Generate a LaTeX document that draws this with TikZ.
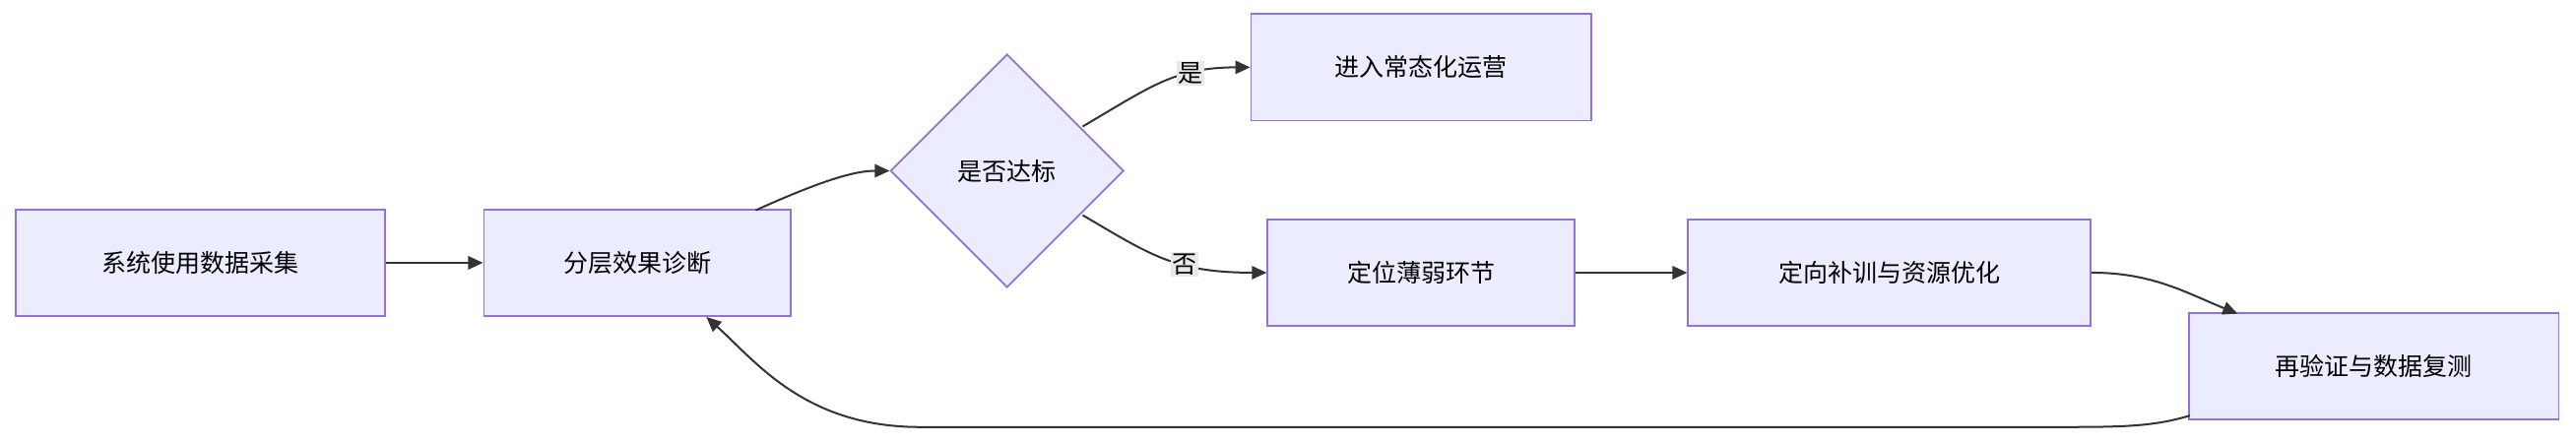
\documentclass[tikz,border=0pt]{standalone}
\usepackage{fontspec}
\setmainfont{Noto Sans CJK SC}
\usetikzlibrary{shapes.geometric,arrows.meta}
\definecolor{nfill}{HTML}{ECECFF}
\definecolor{nline}{HTML}{9370DB}
\definecolor{eline}{HTML}{333333}
\definecolor{lbg}{HTML}{E8E8E8}
\begin{document}
\begin{tikzpicture}[x=1pt,y=-1pt,
 box/.style={draw=nline,fill=nfill,line width=1pt,minimum height=65pt,font=\fontsize{15}{18}\selectfont,inner sep=0pt},
 dia/.style={draw=nline,fill=nfill,line width=1pt,diamond,minimum width=142pt,minimum height=142pt,font=\fontsize{15}{18}\selectfont,inner sep=0pt},
 edge/.style={draw=eline,line width=1.2pt,-{Triangle[length=9pt,width=8pt]}},
 lbl/.style={fill=lbg,font=\fontsize{15}{18}\selectfont,inner sep=1pt}]
\useasboundingbox (0,0) rectangle (1568,270);
\node[box,minimum width=225pt] (A) at (122,160) {系统使用数据采集};
\node[box,minimum width=187pt] (B) at (388,160) {分层效果诊断};
\node[dia] (C) at (613,104) {是否达标};
\node[box,minimum width=207pt] (D) at (865,41) {进入常态化运营};
\node[box,minimum width=187pt] (E) at (865,166) {定位薄弱环节};
\node[box,minimum width=245pt] (F) at (1150,166) {定向补训与资源优化};
\node[box,minimum width=225pt] (G) at (1445,223) {再验证与数据复测};
\coordinate (b1) at (460,128);
\coordinate (c1) at (659,77);
\coordinate (c2) at (659,131);
\coordinate (f1) at (1273,166);
\coordinate (g1) at (1333,253);
\coordinate (b2) at (430,193);
\draw[edge] (A) -- (B);
\draw[edge] (b1) .. controls (500,110) and (520,104) .. (C.west);
\draw[edge] (c1) .. controls (700,53) and (715,41) .. node[lbl,pos=0.68]{是} (D.west);
\draw[edge] (c2) .. controls (700,155) and (715,166) .. node[lbl,pos=0.62]{否} (E.west);
\draw[edge] (E) -- (F);
\draw[edge] (f1) .. controls (1310,166) and (1330,178) .. (1362,191);
\draw[edge] (g1) .. controls (1310,260) and (1290,260) .. (1250,260) -- (560,260) .. controls (490,260) and (460,220) .. (b2);
\end{tikzpicture}
\end{document}
